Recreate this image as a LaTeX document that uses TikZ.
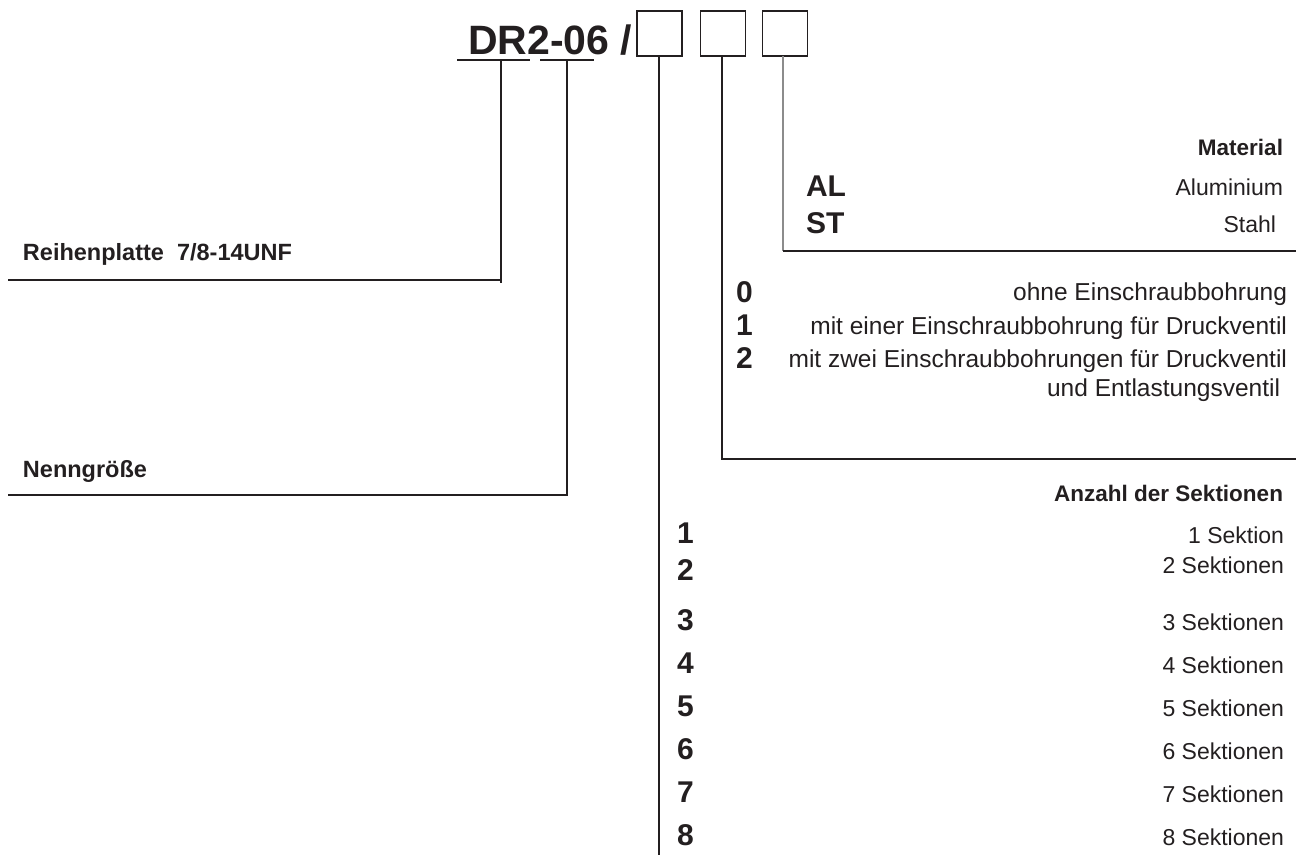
\documentclass[tikz,border=0pt]{standalone}
\usepackage{fontspec}
\setmainfont{Liberation Sans}
\definecolor{ink}{HTML}{231F20}
\definecolor{lgray}{HTML}{8C8C8C}
\begin{document}
\begin{tikzpicture}[x=1pt,y=-1pt,
  every node/.style={inner sep=0pt,outer sep=0pt,text=ink},
  codebox/.style={draw=ink,line width=1.3pt,minimum width=45pt,minimum height=45pt},
  conn/.style={draw=ink,line width=1.3pt},
  conng/.style={draw=lgray,line width=1.3pt},
  title/.style={font=\fontsize{41}{44}\selectfont\bfseries,anchor=base west},
  key/.style={font=\fontsize{30}{32}\selectfont\bfseries,anchor=base west},
  head/.style={font=\fontsize{22.5}{24}\selectfont\bfseries,anchor=base east},
  lbl/.style={font=\fontsize{23.5}{25}\selectfont\bfseries,anchor=base west},
  desc/.style={font=\fontsize{23}{25}\selectfont,anchor=base east},
  descw/.style={font=\fontsize{24.5}{26}\selectfont,anchor=base east}]
\useasboundingbox (0,0) rectangle (1296,855);
% title and boxes
\node[title] (code) at (468,54) {DR2-06 /};
\node[codebox] (b1) at (659.5,33.5) {};
\node[codebox] (b2) at (723,33.5) {};
\node[codebox] (b3) at (785,33.5) {};
% underlines
\coordinate (u1a) at (457,60); \coordinate (u1b) at (530,60); \coordinate (u1m) at (501,60);
\coordinate (u2a) at (540,60); \coordinate (u2b) at (594,60); \coordinate (u2m) at (567,60);
\draw[conn] (u1a) -- (u1b);
\draw[conn] (u2a) -- (u2b);
% Reihenplatte
\coordinate (r1) at (501,283); \coordinate (r2) at (501,280); \coordinate (r3) at (8,280);
\draw[conn] (u1m) -- (r1);
\draw[conn] (r2) -- (r3);
\node[lbl] (reihe) at (23,260) {Reihenplatte\ \ 7/8-14UNF};
% Nenngroesse
\coordinate (n1) at (567,495); \coordinate (n2) at (8,495);
\draw[conn] (u2m) -- (n1) -- (n2);
\node[lbl] (nenn) at (23,477) {Nenngröße};
% Material
\coordinate (m1) at (783,251); \coordinate (m2) at (1296,251);
\draw[conng] (b3.south -| m1) -- (m1);
\draw[conn] (m1) -- (m2);
\node[head] (mat) at (1283,155) {Material};
\node[key] (al) at (806,196) {AL};
\node[desc] (alu) at (1283,195) {Aluminium};
\node[key] (st) at (806,233) {ST};
\node[desc] (sta) at (1276,232) {Stahl};
% Einschraubbohrung
\coordinate (e1) at (722,459); \coordinate (e2) at (1296,459);
\draw[conn] (b2.south -| e1) -- (e1) -- (e2);
\node[key] (k0) at (736,302) {0};
\node[descw] (d0) at (1287,300) {ohne Einschraubbohrung};
\node[key] (k1) at (736,335) {1};
\node[descw] (d1) at (1287,334) {mit einer Einschraubbohrung für Druckventil};
\node[key] (k2) at (736,368) {2};
\node[descw] (d2) at (1287,367) {mit zwei Einschraubbohrungen für Druckventil};
\node[descw] (d2b) at (1280,396) {und Entlastungsventil};
% Sektionen
\coordinate (s1) at (659,855);
\draw[conn] (b1.south -| s1) -- (s1);
\node[head] (anz) at (1283,501) {Anzahl der Sektionen};
\node[key] (n1k) at (677,543) {1};
\node[desc] (n1d) at (1284,543) {1 Sektion};
\node[key] (n2k) at (677,580) {2};
\node[desc] (n2d) at (1284,573) {2 Sektionen};
\node[key] (n3k) at (677,630) {3};
\node[desc] (n3d) at (1284,630) {3 Sektionen};
\node[key] (n4k) at (677,673) {4};
\node[desc] (n4d) at (1284,673) {4 Sektionen};
\node[key] (n5k) at (677,716) {5};
\node[desc] (n5d) at (1284,716) {5 Sektionen};
\node[key] (n6k) at (677,759) {6};
\node[desc] (n6d) at (1284,759) {6 Sektionen};
\node[key] (n7k) at (677,802) {7};
\node[desc] (n7d) at (1284,802) {7 Sektionen};
\node[key] (n8k) at (677,845) {8};
\node[desc] (n8d) at (1284,845) {8 Sektionen};
\end{tikzpicture}
\end{document}
